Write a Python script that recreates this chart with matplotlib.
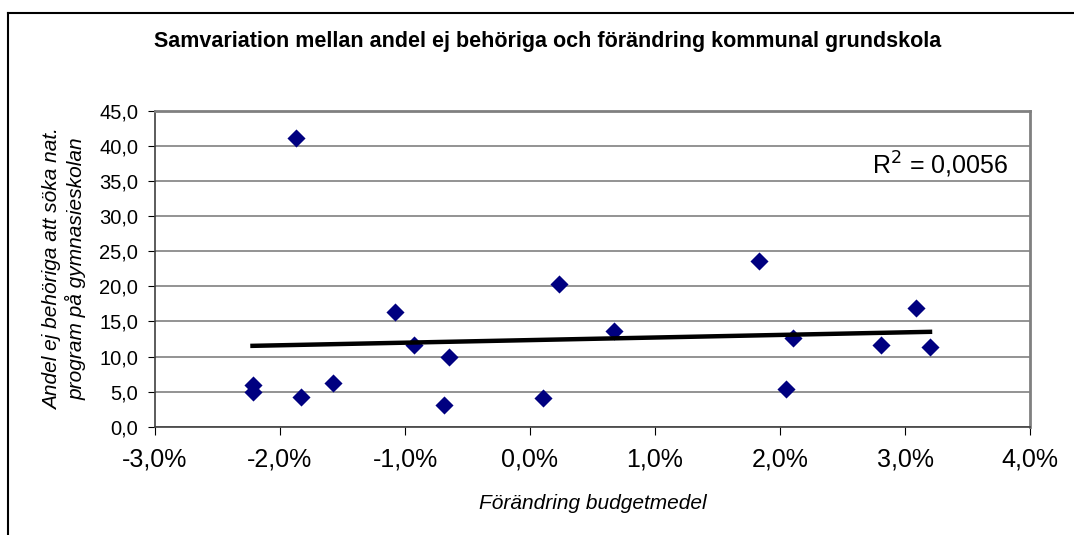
import numpy as np
import matplotlib.pyplot as plt
from matplotlib.ticker import FuncFormatter, MultipleLocator
from matplotlib.lines import Line2D

plt.rcParams['font.family'] = ['Liberation Sans', 'DejaVu Sans']

# Förändring budgetmedel (%) och andel ej behöriga
budget = [-2.22, -2.22, -1.87, -1.83, -1.58, -1.08, -0.93, -0.69, -0.65, 0.10,
          0.23, 0.67, 1.83, 2.05, 2.10, 2.81, 3.09, 3.20]
andel = [5.9, 5.0, 41.1, 4.3, 6.3, 16.3, 11.7, 3.1, 10.0, 4.1,
         20.4, 13.6, 23.6, 5.4, 12.7, 11.6, 16.9, 11.3]
r2_text = 'R$^2$ = 0,0056'

fig = plt.figure(figsize=(10.74, 5.35), dpi=100)
ax = fig.add_axes([155 / 1074, 1 - 426.7 / 535, 875 / 1074, 315.7 / 535])

ax.scatter(budget, andel, marker='D', s=85, color='#000080', zorder=3, linewidths=0)

# linjär trendlinje
k, m = np.polyfit(budget, andel, 1)
xs = np.array([min(budget), max(budget)])
ax.plot(xs, k * xs + m, color='black', linewidth=3.2, zorder=4)

ax.text(2.74, 37.3, r2_text, fontsize=18, ha='left', va='center')

ax.set_xlim(-3, 4)
ax.set_ylim(0, 45)
ax.xaxis.set_major_locator(MultipleLocator(1))
ax.yaxis.set_major_locator(MultipleLocator(5))
ax.xaxis.set_major_formatter(FuncFormatter(lambda v, p: f'{v:.1f}%'.replace('.', ',')))
ax.yaxis.set_major_formatter(FuncFormatter(lambda v, p: f'{v:.1f}'.replace('.', ',')))
ax.tick_params(axis='x', labelsize=18, direction='out', length=6, pad=9)
ax.tick_params(axis='y', labelsize=14.5, direction='out', length=5, pad=7)

ax.grid(axis='y', color='#808080', linewidth=1.2)
ax.set_axisbelow(True)
for s in ['top', 'right']:
    ax.spines[s].set_color('#808080')
    ax.spines[s].set_linewidth(2)
for s in ['left', 'bottom']:
    ax.spines[s].set_color('#404040')
    ax.spines[s].set_linewidth(1.2)

ax.set_xlabel('Förändring budgetmedel', fontsize=15, style='italic', labelpad=16)
ax.set_ylabel('Andel ej behöriga att söka nat.\nprogram på gymnasieskolan',
              fontsize=15, style='italic', labelpad=9)

fig.text(548 / 1074, 1 - 42 / 535, 'Samvariation mellan andel ej behöriga och förändring kommunal grundskola',
         fontsize=15.5, fontweight='bold', ha='center', va='center')

# ram runt diagrammet
fig.add_artist(Line2D([8 / 1074, 8 / 1074], [0, 1 - 12.5 / 535], color='black', linewidth=1.5))
fig.add_artist(Line2D([8 / 1074, 1], [1 - 12.5 / 535, 1 - 12.5 / 535], color='black', linewidth=1.5))

fig.savefig('out.png', dpi=100)
